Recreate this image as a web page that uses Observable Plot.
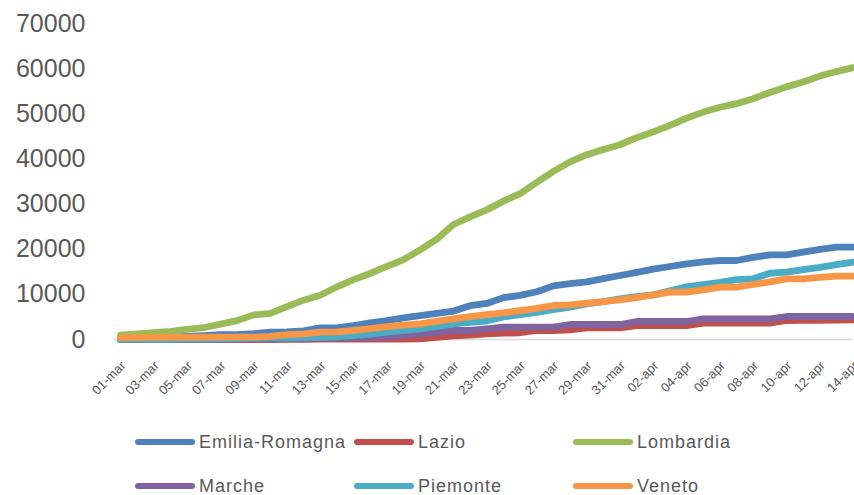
<!DOCTYPE html>
<html><head><meta charset="utf-8">
<script src="https://cdn.jsdelivr.net/npm/d3@7"></script>
<script src="https://cdn.jsdelivr.net/npm/@observablehq/plot@0.6"></script>
<style>
body{margin:0;background:#fff;overflow:hidden;font-family:"Liberation Sans",Arial,sans-serif;}
#legend{display:grid;grid-template-columns:219px 219px 219px;margin-left:135px;margin-top:10px;}
.item{display:flex;align-items:center;height:44px;color:#595959;font-size:18px;letter-spacing:1px;white-space:nowrap;}
.sw{width:60px;height:6.5px;border-radius:3.25px;margin-right:4px;flex:none;}
</style></head>
<body><div id="chart"></div><div id="legend"></div>
<script>
const days = ["01-mar","02-mar","03-mar","04-mar","05-mar","06-mar","07-mar","08-mar","09-mar","10-mar",
  "11-mar","12-mar","13-mar","14-mar","15-mar","16-mar","17-mar","18-mar","19-mar","20-mar",
  "21-mar","22-mar","23-mar","24-mar","25-mar","26-mar","27-mar","28-mar","29-mar","30-mar","31-mar",
  "01-apr","02-apr","03-apr","04-apr","05-apr","06-apr","07-apr","08-apr","09-apr","10-apr",
  "11-apr","12-apr","13-apr","14-apr"];
const tickDays = ["01-mar","03-mar","05-mar","07-mar","09-mar","11-mar","13-mar","15-mar","17-mar","19-mar",
  "21-mar","23-mar","25-mar","27-mar","29-mar","31-mar","02-apr","04-apr","06-apr","08-apr","10-apr","12-apr","14-apr"];
const yTicks = [0,10000,20000,30000,40000,50000,60000,70000];
const regions = ["Emilia-Romagna","Lazio","Lombardia","Marche","Piemonte","Veneto"];
const colors = ["#4F81BD","#C0504D","#9BBB59","#8064A2","#4BACC6","#F79646"];

const emilia = [300,350,420,540,700,870,1100,1100,1300,1630,1700,1900,2590,2600,3100,3700,4200,4800,5300,5800,
  6300,7500,8000,9300,9800,10600,11900,12400,12800,13500,14200,14900,15600,16200,16800,17200,17530,17530,18200,18790,
  18790,19400,20000,20480,20480];
const lazio = [0,0,0,0,0,0,0,0,0,0,50,60,80,100,100,100,100,100,150,500,
  800,1000,1260,1400,1500,2000,2000,2150,2590,2590,2590,3100,3100,3100,3100,3620,3620,3620,3620,3620,
  4220,4250,4250,4300,4370];
const lombardia = [984,1254,1520,1820,2251,2612,3420,4189,5469,5791,7280,8725,9820,11685,13272,14649,16220,17713,19884,22264,
  25515,27206,28761,30703,32346,34889,37298,39415,41007,42161,43208,44773,46065,47520,49118,50455,51534,52325,53414,54802,
  56048,57130,58443,59442,60314];
const marche = [5,10,20,30,45,60,80,100,130,160,200,230,260,300,350,400,600,900,1260,1600,
  2000,2000,2370,2740,2740,2740,2740,3330,3330,3330,3330,3990,3990,3990,3990,4590,4590,4590,4590,4590,
  5100,5100,5100,5100,5100];
const piemonte = [10,15,20,50,80,110,150,210,300,350,380,400,450,600,900,1200,1630,2000,2370,2900,
  3480,3800,4100,5000,5500,6000,6600,7170,7900,8400,9000,9500,9900,10800,11700,12200,12700,13300,13470,14700,
  14930,15500,16000,16600,17150];
const veneto = [380,400,450,480,500,500,510,510,510,700,1100,1260,1630,1700,2000,2400,2880,3200,3480,4000,
  4590,5100,5500,5900,6400,6900,7540,7700,8060,8400,8800,9300,9900,10500,10500,11000,11600,11600,12200,12800,
  13470,13470,13800,14050,14050];

const series = [emilia, lazio, lombardia, marche, piemonte, veneto];
const rows = [];
regions.forEach((r, i) => series[i].forEach((v, j) => rows.push({region: r, day: days[j], value: v})));

const chart = Plot.plot({
  width: 854, height: 410,
  marginTop: 23.5, marginBottom: 71, marginLeft: 120, marginRight: 1.4,
  style: {fontFamily: "Liberation Sans, Arial, sans-serif", color: "#595959", background: "#fff"},
  x: {type: "point", domain: days, padding: 0, round: false, label: null},
  y: {domain: [0, 70000], label: null},
  color: {domain: regions, range: colors},
  marks: [
    Plot.ruleY([0], {stroke: "#D9D9D9", strokeWidth: 1.5, insetLeft: -7}),
    Plot.axisY({ticks: yTicks, tickFormat: d3.format("d"), tickSize: 0, tickPadding: 35, fontSize: 25, fill: "#595959", label: null}),
    Plot.axisX({ticks: tickDays, tickRotate: -45, tickSize: 0, tickPadding: 24, dx: 3, fontSize: 13, fill: "#595959", label: null}),
    Plot.line(rows, {x: "day", y: "value", z: "region", stroke: "region", strokeWidth: 6.8, strokeLinejoin: "round", strokeLinecap: "round"})
  ]
});
document.getElementById("chart").appendChild(chart);

const legend = document.getElementById("legend");
regions.forEach((r, i) => {
  const item = document.createElement("div");
  item.className = "item";
  const sw = document.createElement("span");
  sw.className = "sw";
  sw.style.background = colors[i];
  const t = document.createElement("span");
  t.textContent = r;
  item.appendChild(sw); item.appendChild(t);
  legend.appendChild(item);
});
</script></body></html>
